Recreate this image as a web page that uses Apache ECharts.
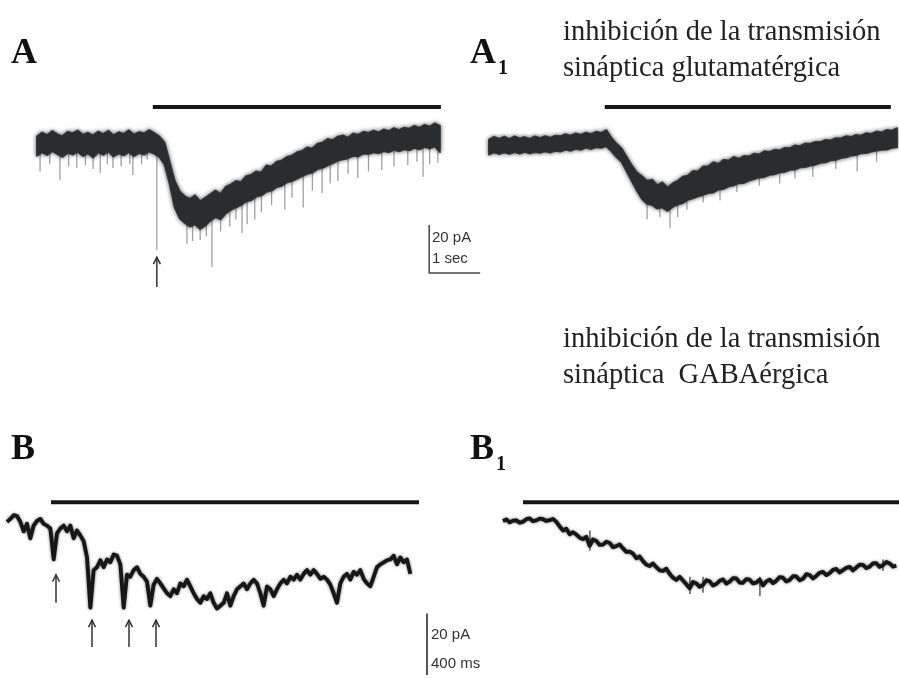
<!DOCTYPE html>
<html><head><meta charset="utf-8">
<script src="https://cdn.jsdelivr.net/npm/echarts@6/dist/echarts.min.js"></script>
<style>html,body{margin:0;padding:0;background:#fff}#c{width:899px;height:678px}</style>
</head><body><div id="c"></div>
<script>
// ---------- Panel A : time (s), current (pA) ----------
const aDt = 0.1;
const aTop = [3.5,5.2,4.1,5.8,4.4,3.6,5.5,4.8,6.0,4.2,5.1,3.9,5.6,4.5,5.9,4.0,5.3,4.6,6.1,4.3,5.4,4.8,6.2,5.0,
  3.5,1.0,-7,-15,-19.5,-21.5,-22.5,-21.0,-23.5,-22.0,-20.5,-19.0,-20.5,-17.5,-16.5,-15.0,
  -15.5,-13.0,-12.5,-11.0,-11.5,-8.5,-9.0,-7.0,-6.5,-5.0,-4.5,-3.0,-2.5,-1.0,-1.5,0.5,1.0,2.5,2.0,3.5,
  4.0,3.0,4.8,4.2,5.5,5.0,6.0,5.2,6.5,5.8,7.0,6.2,7.2,6.8,8.0,7.1,8.4,7.6,9.0,8.0];
const aBot = [-4.5,-3.0,-4.2,-2.5,-3.8,-5.0,-3.2,-4.0,-2.8,-4.6,-3.4,-5.2,-3.0,-4.1,-2.6,-4.8,-3.5,-4.3,-2.9,-4.7,-3.3,-4.0,-2.7,-3.6,
  -5.0,-8,-16,-26,-30.5,-32.5,-34,-33,-35,-33.5,-31.5,-30,-31,-28.5,-27,-26,
  -25,-23.5,-23,-21.5,-21,-19.5,-19,-17.5,-17,-15.5,-15,-14,-13,-12,-11.5,-10,-9.5,-8.5,-7.5,-6.5,
  -6,-5.5,-4.5,-4.8,-3.5,-3.8,-3,-3.4,-2.5,-3,-2,-2.6,-1.8,-2.2,-1.2,-1.8,-0.8,-1.5,-0.5,-3];
const aSpikes = [[0.06,-11],[0.25,-8],[0.45,-14.6],[0.62,-9],[0.78,-9.6],[0.95,-8.5],[1.1,-10],[1.24,-11.7],[1.38,-8],[1.49,-9.6],[1.65,-9],[1.82,-8],[1.88,-12.5],[2.05,-8],[2.16,-6],
  [2.35,-43.8],[2.94,-41],[3.05,-40],[3.2,-39.6],[3.32,-38],[3.43,-50.8],[3.6,-36],[3.78,-34],[3.9,-31],[4.02,-36.7],[4.12,-33],[4.27,-31],[4.4,-28],[4.6,-25],
  [4.86,-27],[5.0,-22],[5.22,-26],[5.4,-19],[5.59,-20],[5.75,-16],[5.9,-15],[6.1,-12],[6.29,-13.8],[6.5,-11],[6.76,-10.4],[7.0,-9],[7.27,-8.3],[7.45,-7],[7.57,-13.3],[7.7,-8],[7.86,-7.5]];
const aBar = [[2.27,15.8],[7.92,15.8]];
const aArrows = [[2.35,-59.2,-46.7]];
const aScale = [[7.69,-33.3],[7.69,-53.3],[8.69,-53.3]];

// ---------- Panel A1 ----------
const a1Dt = 0.1;
const a1Top = [2.2,3.4,2.5,3.5,2.4,3.6,2.7,3.3,2.5,3.6,2.8,3.7,3.0,3.9,3.6,4.5,3.9,4.8,4.2,5.1,4.5,5.5,5.0,6.2,
  3.0,0.5,-1.5,-5,-8.5,-11.5,-13.0,-15.0,-14.5,-16.8,-15.6,-17.8,-16.0,-15.0,-13.2,-12.8,-10.8,-11.0,-9.0,-8.9,-7.2,-7.9,
  -6.2,-6.5,-5.0,-5.8,-4.6,-4.8,-3.6,-4.0,-2.6,-2.9,-2.0,-2.3,-1.2,-1.4,-0.2,-0.5,0.6,0.4,1.3,1.2,2.1,1.9,2.8,2.7,
  3.6,3.3,4.2,3.9,4.9,4.6,5.6,5.2,6.3,5.9,7.0];
const a1Bot = [-4.0,-3.0,-3.8,-3.0,-3.7,-2.9,-3.6,-2.8,-3.5,-2.9,-3.2,-2.6,-3.1,-2.4,-2.7,-1.9,-2.4,-1.6,-2.0,-1.1,-1.7,-0.9,-1.2,-0.4,
  -2.5,-5,-7,-11,-15,-19,-22.5,-24.5,-25.0,-26.5,-26.0,-27.5,-25.8,-24.8,-24.2,-22.8,-22.2,-21.4,-20.8,-20.0,-19.8,-18.5,
  -18.3,-17.2,-16.8,-15.9,-15.8,-14.8,-14.2,-13.5,-13.3,-12.4,-12.2,-11.4,-11.2,-10.3,-10.2,-9.3,-9.2,-8.6,-8.2,-7.4,-7.2,-6.4,
  -6.2,-5.4,-5.1,-4.4,-4.2,-3.4,-3.3,-2.7,-2.3,-2.0,-1.9,-1.2,-0.9];
const a1Spikes = [[3.1,-31],[3.35,-30],[3.55,-34.6],[3.7,-30],[3.88,-27],[4.2,-24],[4.53,-23],[4.86,-19.6],[5.3,-17],[5.7,-16],[6.0,-14],[6.35,-13.3],[6.8,-10],[7.22,-11],[7.6,-7]];
const a1Bar = [[2.27,15.8],[7.88,15.8]];

// ---------- Panel B : time (ms), current (pA) ----------
const bDt = 25;
const bVals = [-1.0,0,1.3,1.0,-1.0,-4.3,-1.7,-6.7,-2.3,-0.7,0,-1.7,-2.3,-3.3,-14.0,-5.0,-3.3,-2.3,-4.3,-2.3,
  -6.7,-4.0,-5.7,-7.7,-13.3,-30.7,-17.7,-16.7,-14.3,-16.7,-14.0,-15.0,-12.3,-12.7,-15.7,-30.7,-19.3,-20.0,-17.7,-16.7,
  -19.0,-20.0,-21.7,-30.0,-22.7,-20.7,-22.3,-24.0,-25.7,-26.7,-24.3,-25.7,-22.3,-23.3,-21.0,-23.3,-25.7,-27.7,-29.0,-26.7,
  -27.7,-25.7,-29.0,-31.0,-30.0,-29.0,-25.7,-30.0,-26.7,-24.3,-23.3,-22.3,-24.3,-22.3,-21.0,-22.3,-25.7,-30.0,-23.3,-24.3,
  -26.7,-24.3,-22.3,-21.0,-22.3,-20.0,-21.0,-19.3,-21.0,-19.0,-17.7,-19.3,-17.7,-19.0,-20.7,-20.0,-21.0,-22.7,-25.7,-29.0,
  -22.3,-20.0,-19.0,-21.0,-18.3,-19.3,-17.7,-20.7,-22.3,-23.3,-20.0,-16.7,-15.7,-15.0,-14.3,-14.0,-12.7,-15.7,-13.3,-15.0,
  -14.0,-19.0];
const bBar = [[330,5.8],[3090,5.8]];
const bArrows = [[367.5,-29,-19.3],[637.5,-44.3,-35],[915,-44.3,-35],[1117.5,-44.3,-35]];
const bScale = [[3150,-32.7],[3150,-54]];

// ---------- Panel B1 ----------
const b1Dt = 25;
const b1Vals = [-0.7,-0.2,-1.2,-0.6,-0.5,-1.3,-1.0,-0.1,0.2,-0.8,-0.5,0.1,-0.1,-0.7,-0.4,0.0,-1.0,-2.6,-4.0,-3.4,
  -5.3,-4.6,-5.4,-6.5,-7.0,-6.2,-9.3,-7.1,-7.6,-9.0,-8.9,-7.9,-8.3,-9.8,-9.4,-8.8,-10.2,-11.4,-11.3,-12.0,
  -13.6,-13.0,-14.6,-15.8,-16.3,-15.4,-16.7,-17.8,-18.0,-17.2,-19.0,-20.3,-21.1,-20.0,-21.3,-22.6,-24.0,-21.8,-22.3,-23.5,
  -22.8,-21.2,-21.6,-23.0,-22.5,-21.4,-20.9,-22.4,-21.7,-20.5,-20.6,-22.0,-22.1,-20.8,-21.0,-22.3,-22.0,-21.0,-23.0,-21.6,
  -21.0,-22.2,-21.4,-20.1,-20.3,-21.6,-21.1,-19.8,-19.9,-21.2,-20.7,-19.1,-19.4,-20.6,-19.7,-18.6,-18.3,-19.4,-18.7,-17.6,
  -17.3,-18.5,-17.7,-16.9,-16.6,-17.8,-16.8,-15.8,-15.9,-17.0,-16.5,-15.4,-15.3,-16.6,-16.0,-14.9,-15.4,-16.5,-16.2];
const b1Spikes = [[652,-4,-11],[1402,-20,-26],[1500,-20,-25.5],[1927,-20,-26.7],[2850,-18,-14]];
const b1Bar = [[150,5.8],[2970,5.8]];

// ---------- Text ----------
const panelLabels = ['A','A','B','B'];
const panelSubs = ['','1','','1'];
const captionGlu = ['inhibición de la transmisión','sináptica glutamatérgica'];
const captionGaba = ['inhibición de la transmisión','sináptica  GABAérgica'];
const scaleA = ['20 pA','1 sec'];
const scaleB = ['20 pA','400 ms'];

// ---------- helpers ----------
const INK = '#161616';
function seriesOf(arr, dt){ return arr.map((v,i)=>[i*dt, v]); }
function band(gi, dt, top, bot){
  return {type:'custom', xAxisIndex:gi, yAxisIndex:gi, data:[[0,0]], silent:true, z:3,
    renderItem:(p, api)=>{
      const pts=[];
      top.forEach((v,i)=>pts.push(api.coord([i*dt,v])));
      for(let i=bot.length-1;i>=0;i--) pts.push(api.coord([i*dt,bot[i]]));
      return {type:'polygon', shape:{points:pts}, style:{fill:'#2a2c2e', stroke:'#4a4a4a', lineWidth:2, strokeFirst:true, lineJoin:'round',
        shadowBlur:4, shadowColor:'rgba(0,0,0,0.55)'}};
    }};
}
function spikes(gi, dt, top, bot, list){
  return {type:'custom', xAxisIndex:gi, yAxisIndex:gi, data:list, silent:true, z:2,
    renderItem:(p, api)=>{
      const t=api.value(0), low=api.value(1);
      const i=Math.max(0,Math.min(top.length-1,Math.round(t/dt)));
      const mid=(top[i]+bot[i])/2;
      const p1=api.coord([t,mid]), p2=api.coord([t,low]);
      return {type:'line', shape:{x1:p1[0],y1:p1[1],x2:p2[0],y2:p2[1]}, style:{stroke:'#a0a0a0', lineWidth:1.3}};
    }};
}
function thinSpikes(gi, list){
  return {type:'custom', xAxisIndex:gi, yAxisIndex:gi, data:list, silent:true, z:2,
    renderItem:(p, api)=>{
      const p1=api.coord([api.value(0),api.value(1)]), p2=api.coord([api.value(0),api.value(2)]);
      return {type:'line', shape:{x1:p1[0],y1:p1[1],x2:p2[0],y2:p2[1]}, style:{stroke:'#333', lineWidth:1.2}};
    }};
}
function arrows(gi, list){
  return {type:'custom', xAxisIndex:gi, yAxisIndex:gi, data:list, silent:true, z:4,
    renderItem:(p, api)=>{
      const t=api.value(0);
      const a=api.coord([t,api.value(1)]), b=api.coord([t,api.value(2)]);
      return {type:'group', children:[
        {type:'line', shape:{x1:a[0],y1:a[1],x2:b[0],y2:b[1]}, style:{stroke:'#333', lineWidth:1.5}},
        {type:'polyline', shape:{points:[[b[0]-3.5,b[1]+7],[b[0],b[1]],[b[0]+3.5,b[1]+7]]}, style:{stroke:'#333', lineWidth:1.5, fill:null}}
      ]};
    }};
}
function lineS(gi, data, w, color, shadow){
  const ls = {width:w, color, join:'round', cap:'butt'};
  if (shadow) { ls.shadowBlur = shadow; ls.shadowColor = 'rgba(0,0,0,0.6)'; }
  return {type:'line', xAxisIndex:gi, yAxisIndex:gi, data, showSymbol:false, silent:true, z:3, lineStyle:ls};
}

const grids = [
  {left:37, top:97, width:459, height:216},
  {left:489, top:97, width:410, height:216},
  {left:7, top:490, width:430, height:195},
  {left:503, top:490, width:396, height:195}
];
const xr = [[0,9],[0,8.04],[0,3225],[0,2970]];
const yr = [[-70,20],[-70,20],[-55,10],[-55,10]];

const LBL = 'bold 36px "Liberation Serif"';
const SUB = 'bold 20px "Liberation Serif"';
const option = {
  animation:false,
  backgroundColor:'#fff',
  grid: grids,
  xAxis: xr.map((r,i)=>({type:'value', gridIndex:i, min:r[0], max:r[1], show:false})),
  yAxis: yr.map((r,i)=>({type:'value', gridIndex:i, min:r[0], max:r[1], show:false})),
  series:[
    spikes(0, aDt, aTop, aBot, aSpikes),
    band(0, aDt, aTop, aBot),
    lineS(0, aBar, 4, INK),
    lineS(0, aScale, 1.5, '#444'),
    arrows(0, aArrows),
    spikes(1, a1Dt, a1Top, a1Bot, a1Spikes),
    band(1, a1Dt, a1Top, a1Bot),
    lineS(1, a1Bar, 4, INK),
    lineS(2, seriesOf(bVals, bDt), 3.8, INK, 3),
    lineS(2, bBar, 4, INK),
    lineS(2, bScale, 1.8, '#444'),
    arrows(2, bArrows),
    thinSpikes(3, b1Spikes),
    lineS(3, seriesOf(b1Vals, b1Dt), 3.8, INK, 3),
    lineS(3, b1Bar, 4, INK)
  ],
  graphic:[
    {type:'text', left:11, top:36, style:{text:'{m|'+panelLabels[0]+'}', rich:{m:{font:LBL, fill:'#111'}}}},
    {type:'text', left:470, top:36, style:{text:'{m|'+panelLabels[1]+'}{s|'+panelSubs[1]+'}', rich:{m:{font:LBL, fill:'#111'}, s:{font:SUB, fill:'#111', padding:[30,0,0,2]}}}},
    {type:'text', left:11, top:432, style:{text:'{m|'+panelLabels[2]+'}', rich:{m:{font:LBL, fill:'#111'}}}},
    {type:'text', left:470, top:432, style:{text:'{m|'+panelLabels[3]+'}{s|'+panelSubs[3]+'}', rich:{m:{font:LBL, fill:'#111'}, s:{font:SUB, fill:'#111', padding:[30,0,0,2]}}}},
    {type:'text', left:563, top:15, style:{text:captionGlu.join('\n'), font:'28.5px "Liberation Serif"', fill:'#222', lineHeight:36}},
    {type:'text', left:563, top:322, style:{text:captionGaba.join('\n'), font:'28.5px "Liberation Serif"', fill:'#222', lineHeight:36}},
    {type:'text', left:432, top:227, style:{text:scaleA.join('\n'), font:'15px "Liberation Sans"', fill:'#333', lineHeight:21}},
    {type:'text', left:431, top:620, style:{text:scaleB.join('\n'), font:'15px "Liberation Sans"', fill:'#333', lineHeight:29}}
  ]
};
const chart = echarts.init(document.getElementById('c'), null, {renderer:'canvas'});
chart.setOption(option);
</script>
</body></html>
